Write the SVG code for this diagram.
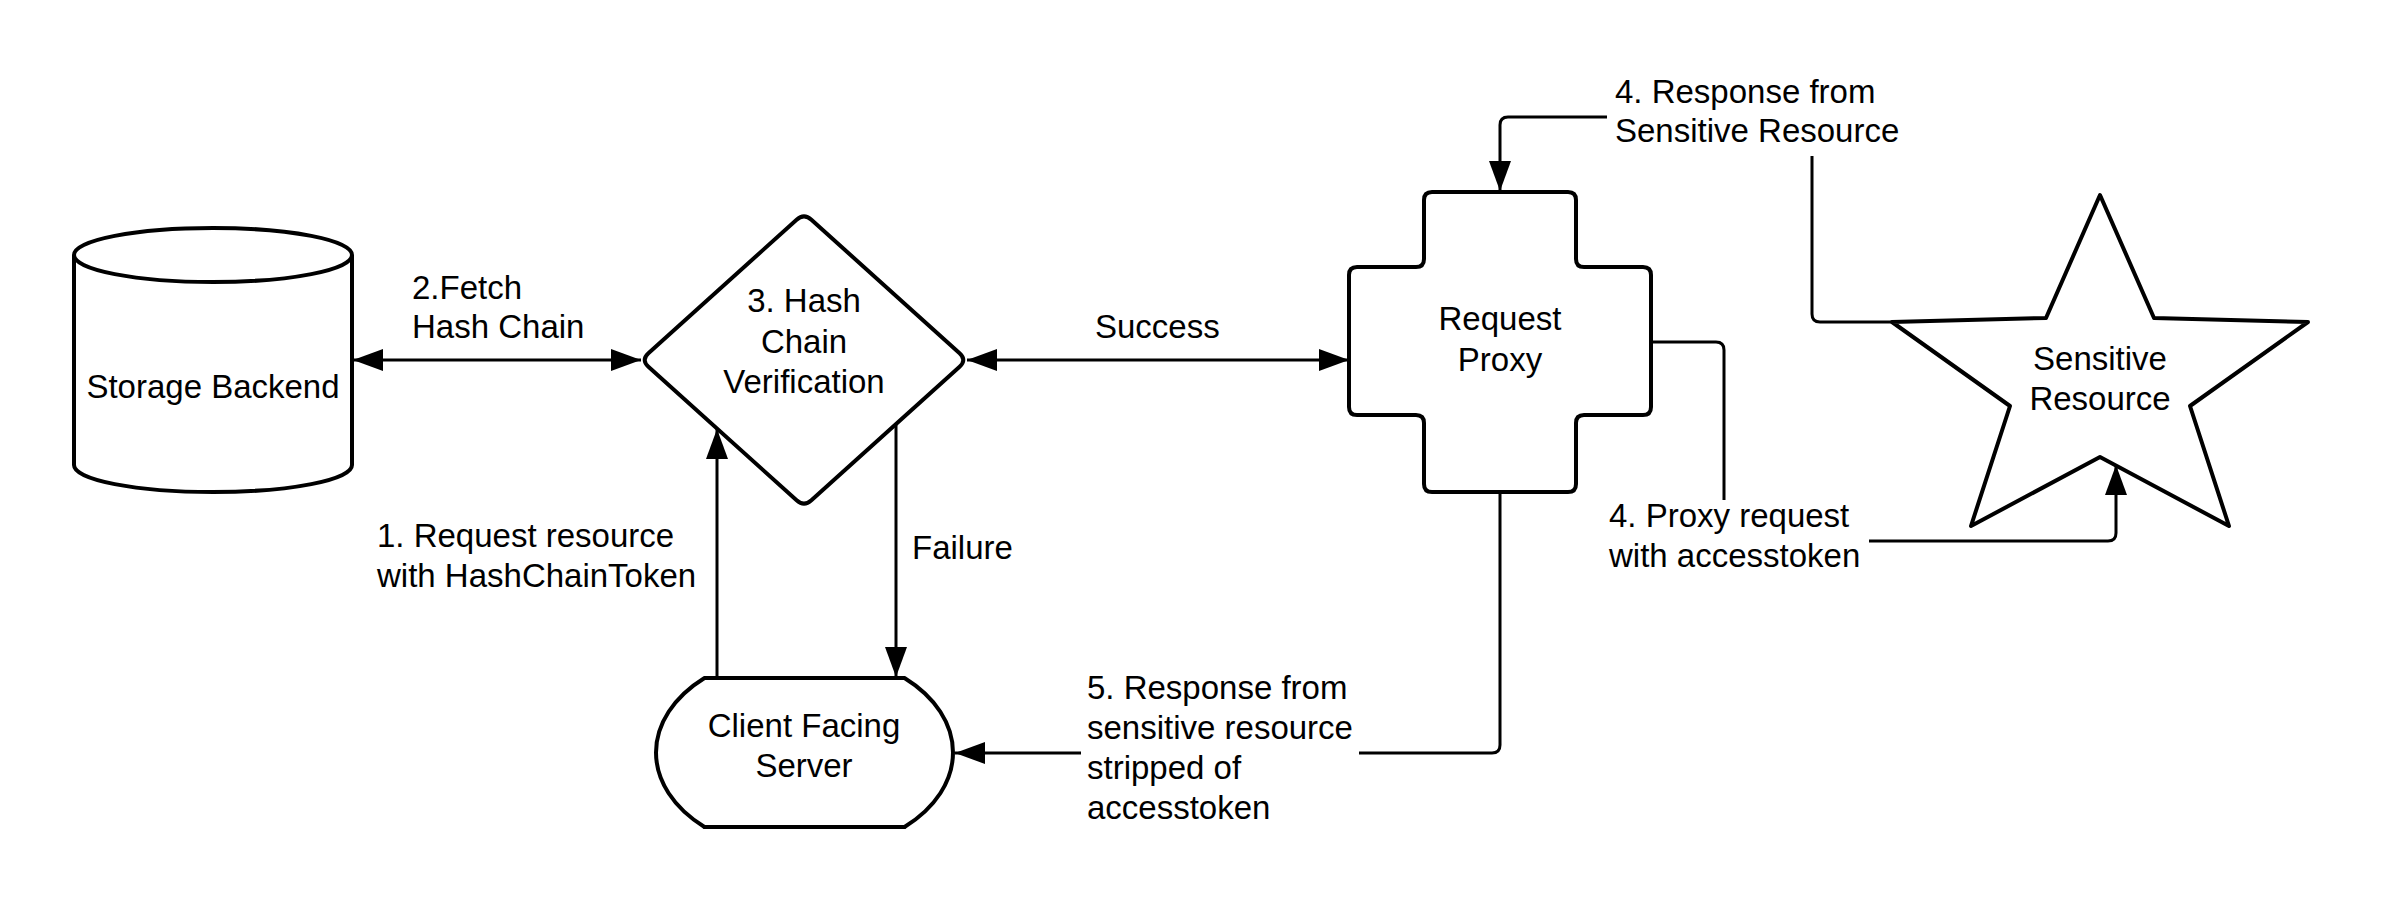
<svg xmlns="http://www.w3.org/2000/svg" width="2400" height="909" viewBox="0 0 2400 909">
<style>
.shape{fill:#fff;stroke:#000;stroke-width:4;stroke-linejoin:round}
.edge{fill:none;stroke:#000;stroke-width:4;stroke-linecap:round}
.conn{fill:none;stroke:#000;stroke-width:3;stroke-linejoin:round}
text{font-family:"Liberation Sans",Arial,sans-serif;font-size:33px;fill:#000}
.c{text-anchor:middle}
.bg{fill:#fff;stroke:none}
</style>
<defs>
<marker id="arr" viewBox="0 0 30 22" refX="30" refY="11" markerWidth="30" markerHeight="22" markerUnits="userSpaceOnUse" orient="auto-start-reverse">
<path d="M0,0 L30,11 L0,22 Z" fill="#000"/>
</marker>
</defs>
<rect width="2400" height="909" fill="#fff"/>

<g id="connectors">
<path class="conn" d="M353,360 H641" marker-start="url(#arr)" marker-end="url(#arr)"/>
<path class="conn" d="M967,360 H1349" marker-start="url(#arr)" marker-end="url(#arr)"/>
<path class="conn" d="M717,678 V429" marker-end="url(#arr)"/>
<path class="conn" d="M896,424 V677" marker-end="url(#arr)"/>
<path class="conn" d="M1892,322 H1820 Q1812,322 1812,314 V125 Q1812,117 1804,117 H1508 Q1500,117 1500,125 V191" marker-end="url(#arr)"/>
<path class="conn" d="M1651,342 H1716 Q1724,342 1724,350 V533 Q1724,541 1732,541 H2108 Q2116,541 2116,533 V465" marker-end="url(#arr)"/>
<path class="conn" d="M1500,492 V745 Q1500,753 1492,753 H955" marker-end="url(#arr)"/>
<rect class="bg" x="1607" y="72" width="300" height="84"/>
<rect class="bg" x="1603" y="500" width="266" height="80"/>
<rect class="bg" x="1081" y="668" width="278" height="158"/>
<text x="412" y="299">2.Fetch</text>
<text x="412" y="338">Hash Chain</text>
<text x="1095" y="338">Success</text>
<text x="377" y="547">1. Request resource</text>
<text x="377" y="587">with HashChainToken</text>
<text x="912" y="559">Failure</text>
<text x="1615" y="103">4. Response from</text>
<text x="1615" y="142">Sensitive Resource</text>
<text x="1609" y="527">4. Proxy request</text>
<text x="1609" y="567">with accesstoken</text>
<text x="1087" y="699">5. Response from</text>
<text x="1087" y="739">sensitive resource</text>
<text x="1087" y="779">stripped of</text>
<text x="1087" y="819">accesstoken</text>
</g>

<g id="storage-backend">
<path class="shape" d="M74,255 A139,27 0 0 1 352,255 V465 A139,27 0 0 1 74,465 Z"/>
<path class="shape" fill="none" d="M74,255 A139,27 0 0 0 352,255"/>
<text class="c" x="213" y="398">Storage Backend</text>
</g>

<g id="hash-chain-verification">
<path class="shape" d="M811.4,219.7 L959.6,353.3 Q967,360 959.6,366.7 L811.4,500.3 Q804,507 796.6,500.3 L648.4,366.7 Q641,360 648.4,353.3 L796.6,219.7 Q804,213 811.4,219.7 Z"/>
<text class="c" x="804" y="312">3. Hash</text>
<text class="c" x="804" y="353">Chain</text>
<text class="c" x="804" y="393">Verification</text>
</g>

<g id="request-proxy">
<path class="shape" d="M1432,192 H1568 Q1576,192 1576,200 V259 Q1576,267 1584,267 H1643 Q1651,267 1651,275 V407 Q1651,415 1643,415 H1584 Q1576,415 1576,423 V484 Q1576,492 1568,492 H1432 Q1424,492 1424,484 V423 Q1424,415 1416,415 H1357 Q1349,415 1349,407 V275 Q1349,267 1357,267 H1416 Q1424,267 1424,259 V200 Q1424,192 1432,192 Z"/>
<text class="c" x="1500" y="330">Request</text>
<text class="c" x="1500" y="371">Proxy</text>
</g>

<g id="sensitive-resource">
<polygon class="shape" points="2100,195 2154,318 2308,322 2190,406 2229,526 2100,457 1971,526 2010,406 1892,322 2046,318"/>
<text class="c" x="2100" y="370">Sensitive</text>
<text class="c" x="2100" y="410">Resource</text>
</g>

<g id="client-facing-server">
<path class="shape" d="M704.5,678 L904.5,678 C935.4,697.1 953,724.1 953,752.5 C953,780.9 935.4,807.9 904.5,827 L704.5,827 C673.6,807.9 656,780.9 656,752.5 C656,724.1 673.6,697.1 704.5,678 Z"/>
<line class="edge" x1="704.5" y1="827" x2="904.5" y2="827"/>
<text class="c" x="804" y="737">Client Facing</text>
<text class="c" x="804" y="777">Server</text>
</g>
</svg>
